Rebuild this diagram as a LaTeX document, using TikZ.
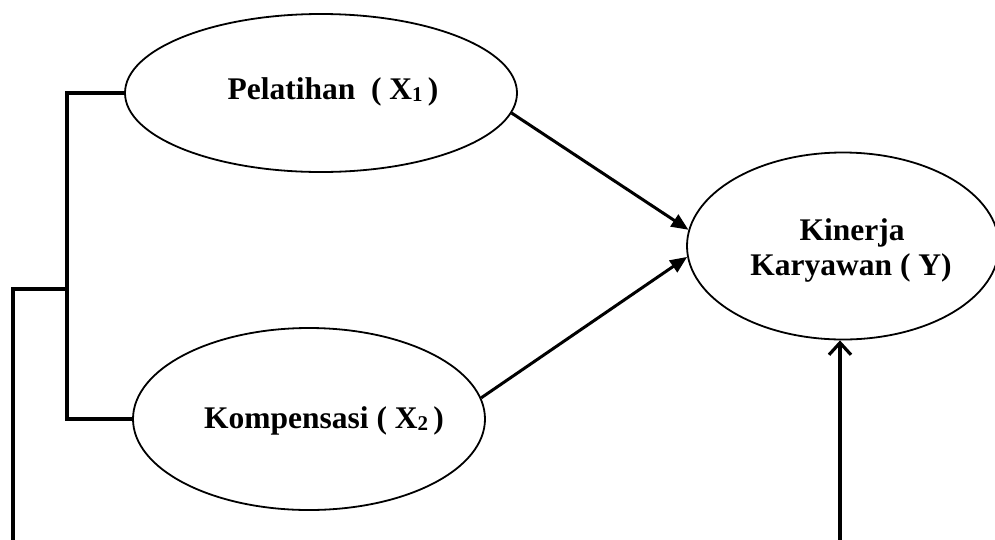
\documentclass[tikz,border=0pt]{standalone}
\usepackage{fontspec}
\setmainfont{Liberation Serif}
\usetikzlibrary{shapes.geometric,arrows.meta}
\newcommand{\subnum}[1]{\raisebox{-2.5pt}{\fontsize{21}{21}\selectfont #1}}
\begin{document}
\begin{tikzpicture}[x=1pt,y=-1pt,
  var/.style={draw,ellipse,line width=1.8pt,inner sep=0pt},
  lbl/.style={font=\bfseries\fontsize{31.5}{35}\selectfont,inner sep=0pt,anchor=base},
  path/.style={line width=3pt,-{Triangle[length=17pt,width=14pt]}},
  bracket/.style={line width=3.6pt},
  uparrow/.style={line width=3.6pt,-{Straight Barb[length=12pt,width=22pt,line width=3.2pt]}}]
\useasboundingbox (0,0) rectangle (995,539);
\node[var,minimum width=392pt,minimum height=158pt] (e1) at (321,93) {};
\node[var,minimum width=352pt,minimum height=182pt] (e2) at (309,419) {};
\node[var,minimum width=312pt,minimum height=187pt] (e3) at (843,246) {};
\node[lbl] (t1) at (333,99) {Pelatihan\ \ ( X\subnum{1}\,)};
\node[lbl] (t2) at (324,428) {Kompensasi ( X\subnum{2}\,)};
\node[lbl] (t3a) at (852,240) {Kinerja};
\node[lbl] (t3b) at (851,275) {Karyawan ( Y)};
\coordinate (j1) at (67,93);
\coordinate (j2) at (67,289);
\coordinate (l1) at (13,289);
\coordinate (l2) at (13,540);
\coordinate (b1) at (840,540);
\draw[bracket] (e1.west) -- (j1) |- (e2.west);
\draw[bracket] (j2) -- (l1) -- (l2);
\draw[uparrow] (b1) -- (b1 |- e3.south);
\draw[path] (e1.-6) -- (e3.174);
\draw[path] (e2.7) -- (e3.-176);
\end{tikzpicture}
\end{document}
